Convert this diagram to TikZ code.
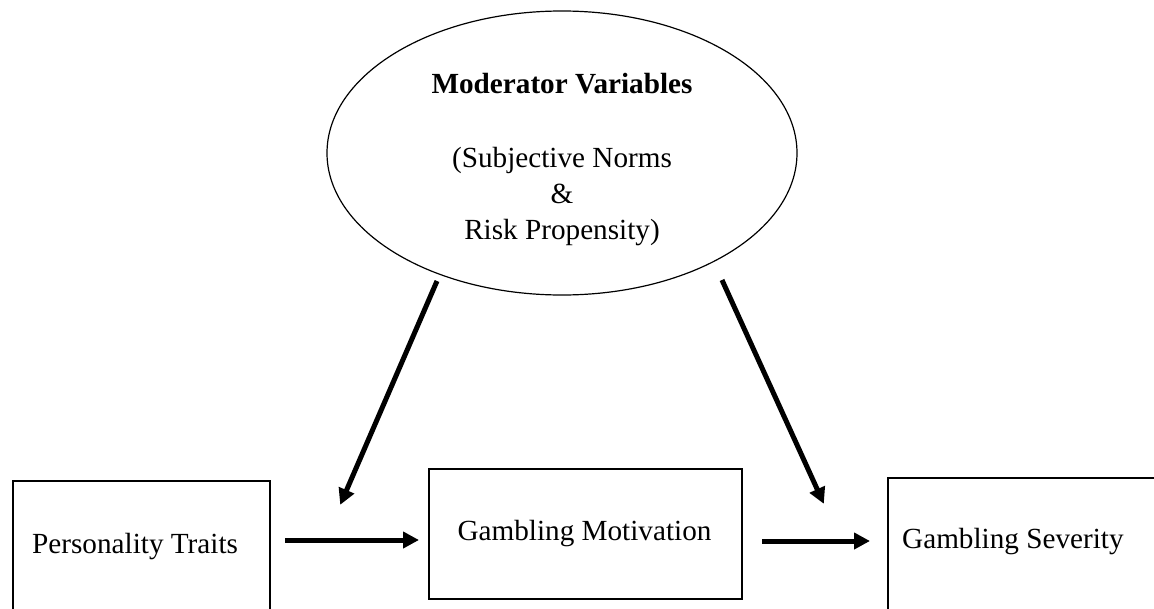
\documentclass[tikz,border=0pt]{standalone}
\usepackage{fontspec}
\setmainfont{Liberation Serif}
\usetikzlibrary{arrows.meta,shapes.geometric}
\tikzset{
  box/.style={draw, line width=1.5pt, inner sep=0pt, anchor=north west},
  lbl/.style={inner sep=0pt, anchor=base, font=\fontsize{29.2}{35}\selectfont},
  flow/.style={line width=5pt, -{Triangle[length=16pt,width=16pt]}, shorten >=-2pt},
}
\begin{document}
\begin{tikzpicture}[x=1pt, y=-1pt]
  \useasboundingbox (0,0) rectangle (1154,608);
  \clip (0,0) rectangle (1154,608);

  % moderator ellipse
  \node[draw, ellipse, line width=1.2pt, inner sep=0pt,
        minimum width=470pt, minimum height=284pt] (mod) at (562,153) {};
  \node[lbl, font=\fontsize{29.2}{35}\selectfont\bfseries] (modt) at (562,93) {Moderator Variables};
  \node[lbl] (mod1) at (562,167) {(Subjective Norms};
  \node[lbl] (mod2) at (562,203) {\&};
  \node[lbl] (mod3) at (562,239) {Risk Propensity)};

  % the three boxes
  \node[box, minimum width=257pt, minimum height=200pt] (pt) at (12,480) {};
  \node[box, minimum width=313pt, minimum height=130pt] (gm) at (428,468) {};
  \node[box, minimum width=300pt, minimum height=200pt] (gs) at (887,477) {};

  \node[lbl, anchor=base west] (ptt) at (32,553) {Personality Traits};
  \node[lbl] (gmt) at (584.5,540) {Gambling Motivation};
  \node[lbl, anchor=base west] (gst) at (902,548) {Gambling Severity};

  % arrow end points
  \coordinate (a1s) at (285,540);
  \coordinate (a1e) at (417,540);
  \coordinate (a2s) at (762,541);
  \coordinate (a2e) at (868,541);
  \coordinate (d1s) at (437,281);
  \coordinate (d1e) at (341,503);
  \coordinate (d2s) at (722,280);
  \coordinate (d2e) at (823,502);

  \draw[flow] (a1s) -- (a1e);
  \draw[flow] (a2s) -- (a2e);
  \draw[flow] (d1s) -- (d1e);
  \draw[flow] (d2s) -- (d2e);
\end{tikzpicture}
\end{document}
